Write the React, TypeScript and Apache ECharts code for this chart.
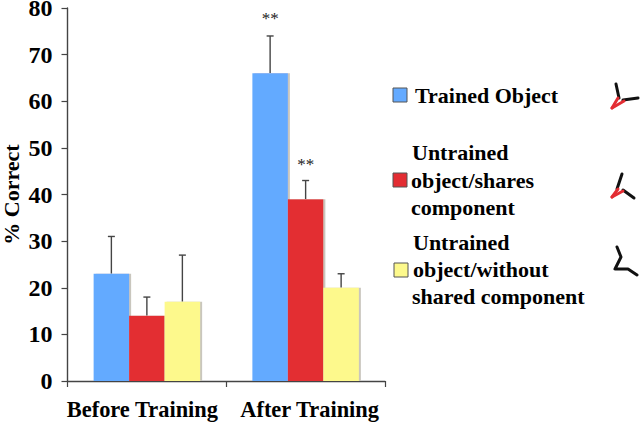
import React, { useEffect, useRef } from "react";
import * as echarts from "echarts";

const categories = ["Before Training", "After Training"];
const yTicks = [0, 10, 20, 30, 40, 50, 60, 70, 80];
const trained = [23, 66];
const shares = [14, 39];
const without = [17, 20];
const trainedErr = [31, 74];
const sharesErr = [18, 43];
const withoutErr = [27, 23];
const seriesNames = ["Trained Object", "Untrained object/shares component", "Untrained object/without shared component"];
const blue = "#64aaff";
const red = "#e32d33";
const yellow = "#fdf98c";
const serif = "'Liberation Serif', serif";
const BAR_W = 35.5;

const errSeries = (highs: number[], lows: number[], slot: number) => ({
  type: "custom",
  silent: true,
  z: 1,
  data: highs.map((h, i) => [i, h, lows[i]]),
  encode: { x: 0, y: [1, 2] },
  renderItem: (_: any, api: any) => {
    const top = api.coord([api.value(0), api.value(1)]);
    const bottom = api.coord([api.value(0), api.value(2)]);
    const x = top[0] + slot * BAR_W;
    const style = { stroke: "#444", lineWidth: 1.4 };
    return {
      type: "group",
      children: [
        { type: "line", shape: { x1: x, y1: top[1], x2: x, y2: bottom[1] }, style },
        { type: "line", shape: { x1: x - 3.5, y1: top[1], x2: x + 3.5, y2: top[1] }, style },
      ],
    };
  },
});

const bar = (name: string, data: number[], color: string) => ({
  name,
  type: "bar",
  data,
  barWidth: BAR_W,
  barGap: 0,
  z: 2,
  itemStyle: { color, shadowColor: "#c9c6bd", shadowOffsetX: 2, shadowOffsetY: 0, shadowBlur: 0 },
});

const stars = [
  { cat: 1, slot: -1, value: 77.8 },
  { cat: 1, slot: 0, value: 46.4 },
];

const legendText = (text: string, x: number, y: number) => ({
  type: "text",
  x,
  y,
  style: { text, fill: "#000", font: `bold 22px ${serif}`, textVerticalAlign: "middle" },
});

const swatch = (x: number, y: number, color: string) => ({
  type: "rect",
  shape: { x, y, width: 14, height: 14 },
  style: { fill: color, stroke: "#555", lineWidth: 1 },
});

const stroke = (points: number[][], color: string, lineWidth = 3) => ({
  type: "polyline",
  shape: { points },
  style: { fill: "none", stroke: color, lineWidth, lineCap: "round", lineJoin: "round" },
  z: 5,
});

const labelRich = { fontFamily: serif, fontWeight: "bold", fontSize: 22.4, color: "#000" };

export default function App() {
  const ref = useRef<HTMLDivElement>(null);
  useEffect(() => {
    const chart = echarts.init(ref.current!, undefined, { renderer: "svg" });
    chart.setOption({
      animation: false,
      backgroundColor: "#fff",
      grid: { left: 67.5, right: 255, top: 8, bottom: 42, outerBoundsMode: "none" },
      xAxis: {
        type: "category",
        data: categories,
        axisLine: { lineStyle: { color: "#444", width: 1.4 } },
        axisTick: { show: true, length: 6, alignWithLabel: false, lineStyle: { color: "#444", width: 1.2 } },
        axisLabel: {
          margin: 17,
          interval: 0,
          color: "#000",
          formatter: (v: string) => (v === categories[0] ? `{a|${v}}` : `{b|${v}}`),
          rich: {
            a: { ...labelRich, padding: [0, 9, 0, 0] },
            b: { ...labelRich, padding: [0, 0, 0, 8] },
          },
        },
      },
      yAxis: {
        type: "value",
        min: 0,
        max: yTicks[yTicks.length - 1],
        interval: 10,
        name: "% Correct",
        nameLocation: "middle",
        nameGap: 45,
        nameTextStyle: { color: "#000", fontFamily: serif, fontWeight: "bold", fontSize: 22 },
        splitLine: { show: false },
        axisLine: { show: true, lineStyle: { color: "#444", width: 1.4 } },
        axisTick: { show: true, length: 6, lineStyle: { color: "#444", width: 1.2 } },
        axisLabel: { margin: 15, color: "#000", fontFamily: serif, fontWeight: "bold", fontSize: 24, lineHeight: 16 },
      },
      series: [
        bar(seriesNames[0], trained, blue),
        bar(seriesNames[1], shares, red),
        bar(seriesNames[2], without, yellow),
        errSeries(trainedErr, trained, -1),
        errSeries(sharesErr, shares, 0),
        errSeries(withoutErr, without, 1),
        {
          type: "custom",
          silent: true,
          data: stars.map((s) => [s.cat, s.value, s.slot]),
          encode: { x: 0, y: 1 },
          renderItem: (_: any, api: any) => {
            const p = api.coord([api.value(0), api.value(1)]);
            return {
              type: "text",
              x: p[0] + api.value(2) * BAR_W,
              y: p[1],
              style: { text: "**", fill: "#222", font: `17px ${serif}`, textAlign: "center", textVerticalAlign: "middle" },
            };
          },
        },
      ],
      graphic: [
        swatch(393, 88, blue),
        legendText("Trained Object", 415, 95),
        legendText("Untrained", 412, 152.5),
        swatch(393, 173, red),
        legendText("object/shares", 411, 180),
        legendText("component", 411, 207),
        legendText("Untrained", 413, 242),
        swatch(394, 263, yellow),
        legendText("object/without", 413, 269),
        legendText("shared component", 412, 296),
        stroke([[616, 84], [619, 98]], "#111"),
        stroke([[623, 100], [638, 98]], "#111"),
        stroke([[612, 108], [618, 98]], red),
        stroke([[612, 108], [624, 101]], red),
        stroke([[622, 174], [617, 189]], "#111"),
        stroke([[623, 190], [634, 198]], "#111"),
        stroke([[612, 197], [618, 189]], red),
        stroke([[612, 197], [623, 191]], red),
        stroke([[617, 247], [621, 257], [615, 269], [628, 269], [637, 275]], "#111"),
      ],
    });
    return () => chart.dispose();
  }, []);
  return <div ref={ref} style={{ position: "absolute", left: 0, top: 0, width: 640, height: 423 }} />;
}
